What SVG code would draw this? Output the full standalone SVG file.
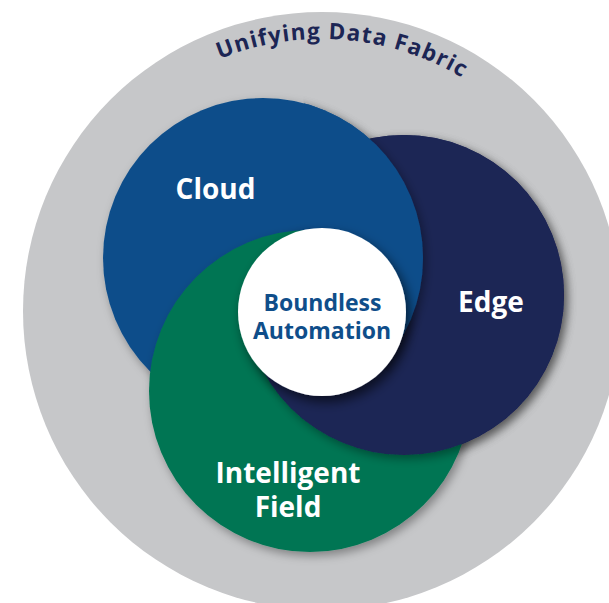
<svg xmlns="http://www.w3.org/2000/svg" width="609" height="603" viewBox="0 0 609 603">
<defs>
<style>
.lbl{font-family:"Open Sans","Noto Sans","Liberation Sans",sans-serif;font-weight:700}
.w{fill:#ffffff;font-size:28px;text-anchor:middle}
.core{fill:#0f4e8a;font-size:23px;text-anchor:middle}
.arc{fill:#1c2554;font-size:22.5px;letter-spacing:1.2px}
</style>
<filter id="sh" x="-20%" y="-20%" width="140%" height="140%">
<feDropShadow dx="3" dy="4" stdDeviation="5" flood-color="#000000" flood-opacity="0.35"/>
</filter>
<filter id="sh2" x="-30%" y="-30%" width="160%" height="160%">
<feDropShadow dx="4" dy="6" stdDeviation="6" flood-color="#000000" flood-opacity="0.6"/>
</filter>
<circle id="cEdge" cx="404" cy="295" r="160" fill="#1c2554"/>
<circle id="cCloud" cx="263" cy="258" r="160" fill="#0f4e8a"/>
<circle id="cField" cx="310" cy="391" r="161" fill="#017552"/>
<clipPath id="clipAB"><path d="M322,312 L322,-2000 L2500,-2000 L2500,2500 L-2125,2500 L-2125,816 Z"/></clipPath>
<clipPath id="clipA"><path d="M322,312 L148,-1680 L2500,-1680 L2500,1996 L2171,1996 Z"/></clipPath>
<path id="arcPath" d="M147.2,102.6 A272,272 0 0,1 527.3,132.5" fill="none"/>
</defs>
<g id="fabric">
<circle cx="322" cy="311" r="299" fill="#c6c7c9"/>
<text class="lbl arc"><textPath href="#arcPath" startOffset="50%" text-anchor="middle">Unifying Data Fabric</textPath></text>
</g>
<g id="edge"><use href="#cEdge" filter="url(#sh)"/></g>
<g id="cloud"><use href="#cCloud" filter="url(#sh)"/>
<text class="lbl w" x="215.5" y="199">Cloud</text></g>
<g id="field"><use href="#cField" filter="url(#sh)"/>
<text class="lbl w" x="288" y="483">Intelligent</text>
<text class="lbl w" x="288" y="517">Field</text></g>
<g id="edge-overlap"><use href="#cEdge" filter="url(#sh)" clip-path="url(#clipAB)"/>
<text class="lbl w" x="491" y="312">Edge</text></g>
<g id="cloud-overlap"><use href="#cCloud" filter="url(#sh)" clip-path="url(#clipA)"/></g>
<g id="core">
<circle cx="322" cy="312" r="84" fill="#ffffff" filter="url(#sh2)"/>
<text class="lbl core" x="322.5" y="311">Boundless</text>
<text class="lbl core" x="322" y="339">Automation</text>
</g>
</svg>
